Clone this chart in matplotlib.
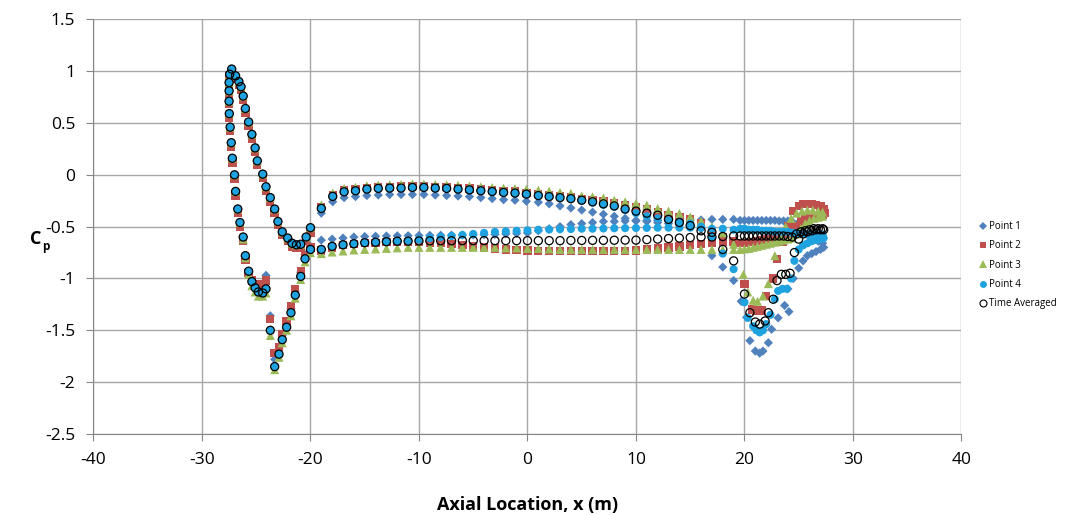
import matplotlib
matplotlib.use("Agg")
import matplotlib.pyplot as plt
from matplotlib.lines import Line2D

plt.rcParams['font.family'] = ['Open Sans', 'DejaVu Sans']

# ---------------- data ----------------
# shared x positions for the nose region (m)
nose_up_x = [-27.26, -26.9, -26.6, -26.4, -26.2, -26.0, -25.7, -25.4, -25.1, -24.9, -24.4,
             -24.1, -23.7, -23.3, -23.0, -22.6, -22.1, -21.7, -21.3, -20.9, -20.4, -20.0]
nose_low_x = [-27.45, -27.5, -27.5, -27.5, -27.48, -27.4, -27.3, -27.2, -27.0, -26.9, -26.7,
              -26.5, -26.2, -26.0, -25.7, -25.4, -25.1, -24.8, -24.4, -24.1]
dip_x = [-23.7, -23.3, -22.9, -22.6, -22.2, -21.8, -21.4, -20.9, -20.5, -20.0]
upper_x = [-19.0, -17.95, -16.9, -15.85, -14.8, -13.75, -12.7, -11.65, -10.6, -9.55, -8.5,
           -7.45, -6.4, -5.35, -4.3, -3.25, -2.2, -1.15, -0.1, 1, 2, 3, 4, 5, 6, 7, 8, 9,
           10, 11, 12, 13, 14, 15, 16]
lower_x = [-19, -18, -17, -16, -15, -14, -13, -12, -11, -10, -9, -8, -7, -6, -5, -4, -3, -2,
           -1, 0, 1, 2, 3, 4, 5, 6, 7, 8, 9, 10, 11, 12, 13, 14, 15, 16, 17, 18, 19]
streak_x = [19.6, 20.0, 20.4, 20.8, 21.2, 21.6, 22.0, 22.4, 22.8, 23.2, 23.6, 24.0, 24.4,
            24.8, 25.2, 25.6, 26.0, 26.4, 26.8, 27.2]

# Cp values, nose region
nose_up_y = [1.02, 0.955, 0.90, 0.85, 0.76, 0.64, 0.51, 0.39, 0.26, 0.135, 0.007, -0.115,
             -0.22, -0.33, -0.45, -0.55, -0.61, -0.66, -0.675, -0.67, -0.60, -0.51]
nose_up_y_p2 = [1.0, 0.93, 0.87, 0.82, 0.72, 0.60, 0.47, 0.35, 0.22, 0.10, -0.03, -0.15,
                -0.26, -0.37, -0.48, -0.58, -0.64, -0.69, -0.70, -0.70, -0.64, -0.56]
nose_low_y = [0.97, 0.89, 0.81, 0.71, 0.59, 0.46, 0.31, 0.16, 0.0, -0.16, -0.33, -0.46,
              -0.60, -0.78, -0.93, -1.03, -1.09, -1.13, -1.14, -1.10]
nose_low_y_p2 = [0.95, 0.86, 0.78, 0.68, 0.55, 0.42, 0.27, 0.12, -0.04, -0.20, -0.37, -0.50,
                 -0.64, -0.82, -0.95, -1.02, -1.05, -1.06, -1.05, -1.02]
nose_low_y_p3 = [0.97, 0.89, 0.81, 0.71, 0.59, 0.46, 0.31, 0.16, 0.0, -0.16, -0.33, -0.46,
                 -0.62, -0.80, -0.96, -1.07, -1.13, -1.17, -1.17, -1.14]
nose_low_y_p1 = [0.97, 0.89, 0.81, 0.71, 0.59, 0.46, 0.31, 0.16, 0.0, -0.16, -0.33, -0.46,
                 -0.60, -0.78, -0.93, -1.02, -1.06, -1.08, -1.05, -0.97]

dip_y_p1 = [-1.36, -1.78, -1.68, -1.55, -1.43, -1.29, -1.12, -0.94, -0.77, -0.69]
dip_y_p2 = [-1.39, -1.72, -1.66, -1.54, -1.41, -1.27, -1.10, -0.93, -0.78, -0.70]
dip_y_p3 = [-1.55, -1.88, -1.76, -1.62, -1.50, -1.36, -1.19, -1.01, -0.84, -0.75]
dip_y_p4 = [-1.50, -1.85, -1.73, -1.59, -1.47, -1.33, -1.16, -0.98, -0.81, -0.72]

# Cp values, upper surface row
upper_y_p1 = [-0.37, -0.26, -0.22, -0.21, -0.20, -0.195, -0.19, -0.19, -0.19, -0.19, -0.195,
              -0.20, -0.205, -0.21, -0.22, -0.23, -0.24, -0.245, -0.255, -0.265, -0.28,
              -0.30, -0.32, -0.34, -0.36, -0.38, -0.40, -0.42, -0.44, -0.45, -0.46, -0.47,
              -0.48, -0.49, -0.52]
upper_y_p2 = [-0.31, -0.195, -0.15, -0.14, -0.125, -0.118, -0.115, -0.113, -0.11, -0.11,
              -0.115, -0.12, -0.126, -0.133, -0.14, -0.148, -0.155, -0.162, -0.175, -0.185,
              -0.195, -0.205, -0.215, -0.235, -0.245, -0.255, -0.275, -0.29, -0.31, -0.33,
              -0.36, -0.385, -0.405, -0.43, -0.47]
upper_y_p3 = [-0.29, -0.175, -0.13, -0.12, -0.105, -0.098, -0.094, -0.092, -0.088, -0.088,
              -0.092, -0.096, -0.102, -0.108, -0.115, -0.122, -0.128, -0.133, -0.138, -0.148,
              -0.157, -0.170, -0.179, -0.203, -0.212, -0.222, -0.244, -0.260, -0.276, -0.292,
              -0.324, -0.350, -0.372, -0.405, -0.446]
upper_y_p4 = [-0.324, -0.208, -0.164, -0.154, -0.138, -0.131, -0.128, -0.128, -0.122, -0.122,
              -0.128, -0.131, -0.138, -0.145, -0.154, -0.161, -0.170, -0.176, -0.186, -0.20,
              -0.21, -0.22, -0.23, -0.25, -0.27, -0.29, -0.31, -0.34, -0.37, -0.40, -0.42,
              -0.44, -0.45, -0.47, -0.50]
upper_y_ta = [-0.324, -0.208, -0.164, -0.154, -0.138, -0.131, -0.128, -0.128, -0.122, -0.122,
              -0.128, -0.131, -0.138, -0.145, -0.154, -0.161, -0.170, -0.176, -0.186, -0.20,
              -0.21, -0.22, -0.23, -0.245, -0.26, -0.28, -0.30, -0.33, -0.35, -0.37, -0.39,
              -0.43, -0.46, -0.49, -0.54]

# Cp values, lower surface row
lower_y_p1 = [-0.63, -0.62, -0.61, -0.60, -0.595, -0.592, -0.59, -0.588, -0.587, -0.585,
              -0.584, -0.583, -0.582, -0.581, -0.58, -0.578, -0.575, -0.57, -0.565, -0.56,
              -0.54, -0.52, -0.50, -0.48, -0.47, -0.46, -0.45, -0.45, -0.445, -0.445, -0.44,
              -0.44, -0.44, -0.435, -0.435, -0.435, -0.43, -0.43, -0.43]
lower_y_p2 = [-0.73, -0.70, -0.68, -0.665, -0.66, -0.655, -0.65, -0.65, -0.65, -0.65, -0.655,
              -0.66, -0.67, -0.68, -0.69, -0.70, -0.71, -0.72, -0.725, -0.73, -0.735, -0.735,
              -0.735, -0.735, -0.735, -0.735, -0.735, -0.735, -0.735, -0.73, -0.72, -0.71,
              -0.70, -0.69, -0.68, -0.67, -0.66, -0.65, -0.64]
lower_y_p3 = [-0.76, -0.745, -0.735, -0.725, -0.72, -0.715, -0.71, -0.705, -0.70, -0.70,
              -0.70, -0.70, -0.70, -0.70, -0.70, -0.70, -0.70, -0.705, -0.705, -0.71, -0.71,
              -0.715, -0.72, -0.72, -0.72, -0.72, -0.72, -0.72, -0.72, -0.72, -0.72, -0.72,
              -0.72, -0.72, -0.72, -0.72, -0.72, -0.72, -0.72]
lower_y_p4 = [-0.72, -0.69, -0.675, -0.665, -0.655, -0.65, -0.645, -0.64, -0.635, -0.625,
              -0.61, -0.60, -0.59, -0.58, -0.57, -0.56, -0.55, -0.545, -0.54, -0.535, -0.53,
              -0.528, -0.525, -0.523, -0.52, -0.52, -0.518, -0.516, -0.515, -0.513, -0.512,
              -0.51, -0.51, -0.51, -0.51, -0.51, -0.52, -0.52, -0.53]
lower_y_ta = [-0.72, -0.69, -0.675, -0.665, -0.655, -0.65, -0.645, -0.64, -0.64, -0.638,
              -0.637, -0.636, -0.636, -0.635, -0.635, -0.635, -0.635, -0.635, -0.635, -0.635,
              -0.635, -0.635, -0.635, -0.633, -0.633, -0.632, -0.632, -0.631, -0.63, -0.63,
              -0.625, -0.62, -0.615, -0.61, -0.605, -0.60, -0.60, -0.595, -0.59]

# Cp values, tail region: lower-surface streak (on streak_x)
streak_y_p1 = [-0.44, -0.44, -0.44, -0.44, -0.44, -0.44, -0.44, -0.44, -0.44, -0.445, -0.445,
               -0.445, -0.45, -0.48, -0.53, -0.57, -0.60, -0.62, -0.64, -0.66]
streak_y_p2 = [-0.66, -0.66, -0.65, -0.645, -0.64, -0.63, -0.62, -0.61, -0.60, -0.59, -0.58,
               -0.57, -0.56, -0.50, -0.45, -0.42, -0.41, -0.40, -0.40, -0.39]
streak_y_p3 = [-0.72, -0.715, -0.71, -0.70, -0.69, -0.68, -0.67, -0.66, -0.65, -0.64, -0.63,
               -0.62, -0.61, -0.57, -0.52, -0.47, -0.44, -0.42, -0.41, -0.40]
streak_y_p4 = [-0.52, -0.52, -0.53, -0.53, -0.53, -0.54, -0.54, -0.54, -0.55, -0.55, -0.55,
               -0.55, -0.56, -0.56, -0.57, -0.57, -0.58, -0.58, -0.58, -0.58]
streak_y_ta = [-0.59, -0.59, -0.59, -0.59, -0.59, -0.59, -0.59, -0.59, -0.59, -0.59, -0.59,
               -0.595, -0.60, -0.57, -0.55, -0.54, -0.53, -0.52, -0.52, -0.52]

# Cp values, tail region: upper surface dip and recovery (own x per series)
tail_x_p1 = [17.0, 18.0, 19.0, 19.7, 20.2, 20.5, 21.0, 21.4, 21.7, 22.2, 22.5, 23.1, 23.7,
             24.0, 24.1, 24.5, 25.0, 25.4, 25.8, 26.2, 26.6, 27.0, 27.3]
tail_y_p1 = [-0.78, -0.89, -1.02, -1.22, -1.375, -1.60, -1.70, -1.72, -1.70, -1.62, -1.49,
             -1.38, -1.26, -1.10, -1.32, -1.00, -0.90, -0.83, -0.78, -0.76, -0.74, -0.72, -0.70]
tail_x_p2 = [17.0, 18.0, 19.0, 20.0, 20.7, 21.1, 21.6, 22.0, 22.65, 23.0, 23.5, 24.0, 24.5,
             25.0, 25.4, 25.8, 26.2, 26.6, 27.0, 27.3, 27.4]
tail_y_p2 = [-0.55, -0.60, -0.65, -1.05, -1.30, -1.31, -1.31, -1.17, -1.00, -0.81, -0.65,
             -0.50, -0.35, -0.30, -0.28, -0.28, -0.28, -0.29, -0.30, -0.33, -0.37]
tail_x_p3 = [17.0, 18.0, 19.0, 19.9, 20.3, 20.8, 21.2, 21.7, 22.2, 22.8, 23.3, 23.8, 24.3,
             24.8, 25.3, 25.8, 26.3, 26.8, 27.2]
tail_y_p3 = [-0.50, -0.56, -0.67, -0.96, -1.13, -1.21, -1.22, -1.17, -1.05, -0.78, -0.60,
             -0.50, -0.42, -0.37, -0.35, -0.34, -0.34, -0.35, -0.36]
tail_x_p4 = [17.0, 18.0, 19.0, 20.0, 20.3, 20.8, 21.1, 21.4, 21.7, 22.0, 22.4, 22.8, 23.1,
             23.5, 23.9, 24.3, 24.6, 25.0, 25.4, 25.8, 26.2, 26.6, 27.0, 27.3]
tail_y_p4 = [-0.60, -0.76, -0.91, -1.23, -1.38, -1.46, -1.50, -1.52, -1.50, -1.44, -1.35,
             -1.20, -1.12, -1.10, -1.10, -1.00, -0.83, -0.72, -0.68, -0.66, -0.64, -0.63,
             -0.62, -0.61]
tail_x_ta = [17.0, 18.0, 19.0, 20.0, 20.5, 21.0, 21.4, 21.9, 22.2, 22.65, 23.0, 23.4, 23.8,
             24.2, 24.6, 25.0, 25.4, 25.8, 26.2, 26.6, 27.0, 27.3]
tail_y_ta = [-0.555, -0.72, -0.83, -1.15, -1.33, -1.42, -1.44, -1.41, -1.33, -1.20, -1.02,
             -0.96, -0.96, -0.95, -0.75, -0.62, -0.57, -0.55, -0.54, -0.53, -0.53, -0.53]

series_names = ['Point 1', 'Point 2', 'Point 3', 'Point 4', 'Time Averaged']
x_ticks = [-40, -30, -20, -10, 0, 10, 20, 30, 40]
y_ticks = [-2.5, -2, -1.5, -1, -0.5, 0, 0.5, 1, 1.5]

# ---------------- assemble series ----------------
def cat(*parts):
    out = []
    for p in parts:
        out.extend(p)
    return out

series = [
    (cat(nose_up_x, nose_low_x, dip_x, upper_x, lower_x, streak_x, tail_x_p1),
     cat(nose_up_y, nose_low_y_p1, dip_y_p1, upper_y_p1, lower_y_p1, streak_y_p1, tail_y_p1)),
    (cat(nose_up_x, nose_low_x, dip_x, upper_x, lower_x, streak_x, tail_x_p2),
     cat(nose_up_y_p2, nose_low_y_p2, dip_y_p2, upper_y_p2, lower_y_p2, streak_y_p2, tail_y_p2)),
    (cat(nose_up_x, nose_low_x, dip_x, upper_x, lower_x, streak_x, tail_x_p3),
     cat(nose_up_y, nose_low_y_p3, dip_y_p3, upper_y_p3, lower_y_p3, streak_y_p3, tail_y_p3)),
    (cat(nose_up_x, nose_low_x, dip_x, upper_x, lower_x, streak_x, tail_x_p4),
     cat(nose_up_y, nose_low_y, dip_y_p4, upper_y_p4, lower_y_p4, streak_y_p4, tail_y_p4)),
    (cat(nose_up_x, nose_low_x, dip_x, upper_x, lower_x, streak_x, tail_x_ta),
     cat(nose_up_y, nose_low_y, dip_y_p4, upper_y_ta, lower_y_ta, streak_y_ta, tail_y_ta)),
]

styles = [
    dict(marker='D', s=22, c='#4F81BD', edgecolors='none'),
    dict(marker='s', s=36, c='#C0504D', edgecolors='none'),
    dict(marker='^', s=42, c='#9BBB59', edgecolors='none'),
    dict(marker='o', s=34, c='#1FA3E0', edgecolors='none'),
    dict(marker='o', s=34, facecolors='none', edgecolors='black', linewidths=0.9),
]

# ---------------- draw ----------------
fig = plt.figure(figsize=(10.67, 5.15), dpi=100)
ax = fig.add_axes([0.0876, 0.1573, 0.8135, 0.8052])

for (xs, ys), st, name in zip(series, styles, series_names):
    ax.scatter(xs, ys, zorder=3, **st)

ax.set_xlim(-40, 40)
ax.set_ylim(-2.5, 1.5)
ax.set_xticks(x_ticks)
ax.set_yticks(y_ticks)
ax.set_xticklabels([f'{v:g}' for v in x_ticks])
ax.set_yticklabels([f'{v:g}' for v in y_ticks])
ax.grid(True, color='#A6A6A6', linewidth=1.0, zorder=0)
ax.set_axisbelow(True)
for side in ['top', 'right']:
    ax.spines[side].set_visible(False)
for side in ['left', 'bottom']:
    ax.spines[side].set_color('#868686')
ax.tick_params(axis='both', direction='out', length=5, color='#868686',
               labelsize=12.5, labelcolor='black', pad=8)

ax.set_xlabel('Axial Location, x (m)', fontsize=13, fontweight='bold', labelpad=20)
fig.text(0.028, 0.535, 'C', fontsize=13, fontweight='bold', ha='left', va='center')
fig.text(0.0395, 0.522, 'p', fontsize=8.5, fontweight='bold', ha='left', va='center')

handles = [
    Line2D([], [], linestyle='none', marker='D', markersize=4, color='#4F81BD', markeredgewidth=0),
    Line2D([], [], linestyle='none', marker='s', markersize=5, color='#C0504D', markeredgewidth=0),
    Line2D([], [], linestyle='none', marker='^', markersize=5.5, color='#9BBB59', markeredgewidth=0),
    Line2D([], [], linestyle='none', marker='o', markersize=5, color='#1FA3E0', markeredgewidth=0),
    Line2D([], [], linestyle='none', marker='o', markersize=5, markerfacecolor='none',
           markeredgecolor='black', markeredgewidth=0.8),
]
fig.legend(handles, series_names, loc='center left', bbox_to_anchor=(0.914, 0.485),
           frameon=False, fontsize=7, handlelength=0.8, handletextpad=0.2,
           labelspacing=0.85, borderaxespad=0)

fig.savefig('out.png', dpi=100)
